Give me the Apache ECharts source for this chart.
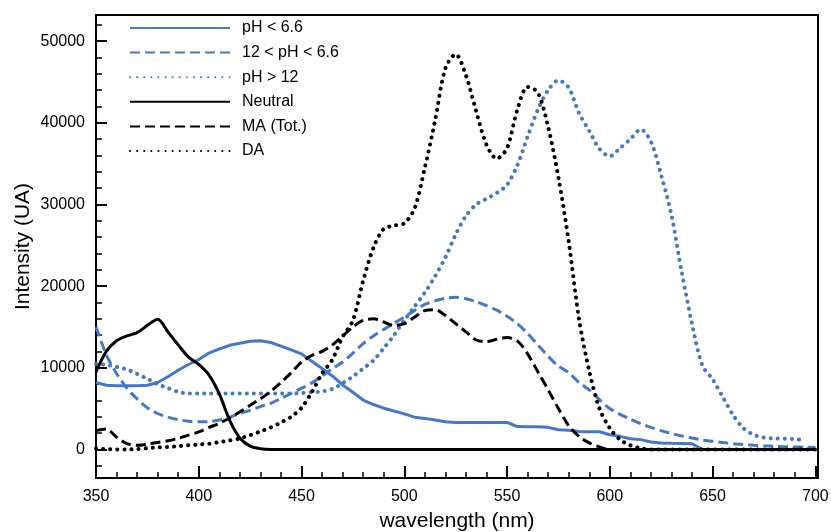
<!DOCTYPE html>
<html>
<head>
<meta charset="utf-8">
<title>Intensity vs wavelength</title>
<script src="https://cdn.jsdelivr.net/npm/echarts/dist/echarts.min.js"></script>
<style>
  html, body { margin: 0; padding: 0; background: #fff; }
  #chartmain { width: 831px; height: 532px; }
</style>
</head>
<body>
<div id="chartmain"></div>
<script>
// wavelength (nm), one point every 5 nm
var wavelength = [350,355,360,365,370,375,380,385,390,395,
    400,405,410,415,420,425,430,435,440,445,
    450,455,460,465,470,475,480,485,490,495,
    500,505,510,515,520,525,530,535,540,545,
    550,555,560,565,570,575,580,585,590,595,
    600,605,610,615,620,625,630,635,640,645,
    650,655,660,665,670,675,680,685,690,695,
    700];

// pH < 6.6
var phLow = [8200,7850,7800,7800,7800,7850,8200,8900,9700,10400,
    11000,11800,12300,12750,13000,13250,13300,13100,12650,12200,
    11700,10800,9900,9000,7900,7000,6050,5500,5050,4700,
    4350,3950,3800,3600,3400,3300,3300,3300,3300,3300,
    3300,2800,2770,2770,2700,2400,2360,2200,2160,2160,
    1800,1600,1300,1200,900,800,750,730,700,0,
    0,0,0,0,0,0,0,0,0,0,
    0];

// 12 < pH < 6.6
var phMid = [15000,11600,9300,7500,6200,5100,4400,3950,3650,3450,
    3380,3400,3600,3950,4400,4800,5250,5650,6250,6850,
    7500,8150,9000,9900,10700,11800,12950,13900,14700,15450,
    16200,17000,17750,18200,18500,18620,18450,18100,17600,17050,
    16300,15400,14200,12800,11400,10200,9400,8200,7300,6100,
    5000,4300,3700,3150,2700,2300,1950,1650,1400,1150,
    1000,850,700,600,520,450,390,340,300,270,
    240];

// pH > 12
var phHigh = [10500,10350,10100,9800,9250,8650,8000,7500,7050,6850,
    6850,6850,6850,6850,6850,6850,6850,6850,6850,6850,
    6900,7000,7100,7400,8100,8950,9900,10900,12400,14000,
    15800,17500,19200,21200,23500,26300,28600,30000,30700,31400,
    32400,34800,38300,41600,44000,45200,44300,41200,39000,36800,
    35900,36900,38000,39200,37700,33600,28700,21700,15400,10300,
    8600,6400,4200,2600,1800,1450,1350,1300,1280,1050,
    null];

// Neutral
var neutral = [9500,12000,13300,13900,14300,15200,15950,14400,12800,11300,
    10400,9100,6800,3600,1400,400,80,0,0,0,
    0,0,0,0,0,0,0,0,0,0,
    0,0,0,0,0,0,0,0,0,0,
    0,0,0,0,0,0,0,0,0,0,
    0,0,0,0,0,0,0,0,0,0,
    0,0,0,0,0,0,0,0,0,0,
    0];

// MA (Tot.)
var maTot = [2300,2500,1500,700,500,650,850,1050,1350,1750,
    2150,2700,3200,3850,4600,5400,6200,7100,8200,9400,
    10700,11500,12000,12800,13900,15000,15800,16000,15600,15200,
    15400,16200,17000,17100,16400,15400,14400,13400,13200,13500,
    13700,13300,11700,9500,7300,5000,2900,1600,800,300,
    0,0,0,0,0,0,0,0,0,0,
    0,0,0,0,0,0,0,0,0,0,
    0];

// DA
var da = [100,50,0,0,50,150,250,300,400,500,
    600,700,900,1100,1350,1750,2200,2700,3300,4000,
    5100,7000,9300,11000,13800,15800,20700,24700,27000,27400,
    27700,29500,34500,40300,46700,48400,45800,41400,37300,35600,
    36900,41600,44400,43700,39500,33300,25500,16000,9600,5000,
    2600,1200,500,150,0,0,0,0,0,0,
    0,0,0,0,0,0,0,0,0,0,
    0];

// tick labels
var xTicks = [350, 400, 450, 500, 550, 600, 650, 700];
var xMinorTicks = [360,370,380,390,410,420,430,440,460,470,480,490,510,520,530,540,
    560,570,580,590,610,620,630,640,660,670,680,690];
var yTicks = [0, 10000, 20000, 30000, 40000, 50000];
var yMinorTicks = [-2000,2000,4000,6000,8000,12000,14000,16000,18000,22000,24000,26000,28000,
    32000,34000,36000,38000,42000,44000,46000,48000,52000];

var seriesNames = ['pH < 6.6', '12 < pH < 6.6', 'pH > 12', 'Neutral', 'MA (Tot.)', 'DA'];

var blue = '#4478cc';
var fontFamily = '"Liberation Sans", Arial, Helvetica, sans-serif';
var dashed = [10, 5];
var dotted = [0.1, 7];

function makeSeries(name, values, color, dash, width, smooth) {
    var data = [];
    for (var i = 0; i < wavelength.length; i++) {
        data.push([wavelength[i], values[i]]);
    }
    return {
        name: name,
        type: 'line',
        data: data,
        symbol: 'none',
        smooth: smooth,
        connectNulls: false,
        lineStyle: {
            color: color,
            width: width,
            type: dash,
            cap: dash === dotted ? 'round' : 'butt'
        },
        itemStyle: { color: color }
    };
}

function plainNumber(v) {
    return String(v);
}

function setChartMain() {
    var option = {
        animation: false,
        backgroundColor: '#fff',
        grid: {
            left: 96,
            top: 15,
            right: 13,
            bottom: 54,
            outerBoundsMode: 'none',
            containLabel: false,
            show: true,
            borderColor: '#000',
            borderWidth: 2
        },
        legend: {
            data: seriesNames,
            orient: 'vertical',
            left: 124,
            top: 14,
            itemWidth: 100,
            itemHeight: 18,
            itemGap: 6.6,
            itemStyle: { opacity: 0 },
            textStyle: {
                color: '#000',
                fontSize: 16,
                fontFamily: fontFamily,
                lineHeight: 18,
                padding: [0, 0, 0, 7]
            }
        },
        xAxis: [{
            type: 'value',
            min: 350,
            max: 701.3,
            position: 'bottom',
            name: 'wavelength (nm)',
            nameLocation: 'middle',
            nameGap: 33,
            nameMoveOverlap: false,
            nameTextStyle: { color: '#000', fontSize: 21, fontFamily: fontFamily },
            axisLine: { show: true, onZero: false, lineStyle: { color: '#000', width: 2 } },
            axisTick: { show: true, inside: true, length: 12, customValues: xTicks, lineStyle: { color: '#000', width: 2 } },
            axisLabel: { customValues: xTicks, formatter: plainNumber, margin: 11, color: '#000', fontSize: 16, fontFamily: fontFamily },
            splitLine: { show: false }
        }, {
            type: 'value',
            min: 350,
            max: 701.3,
            position: 'bottom',
            axisLine: { show: false, onZero: false },
            axisTick: { show: true, inside: true, length: 6, customValues: xMinorTicks, lineStyle: { color: '#000', width: 1.5 } },
            axisLabel: { show: false },
            splitLine: { show: false }
        }],
        yAxis: [{
            type: 'value',
            min: -3500,
            max: 53200,
            position: 'left',
            name: 'Intensity (UA)',
            nameLocation: 'middle',
            nameGap: 62,
            nameMoveOverlap: false,
            nameTextStyle: { color: '#000', fontSize: 21, fontFamily: fontFamily },
            axisLine: { show: true, onZero: false, lineStyle: { color: '#000', width: 2 } },
            axisTick: { show: true, inside: true, length: 11, customValues: yTicks, lineStyle: { color: '#000', width: 2 } },
            axisLabel: { customValues: yTicks, formatter: plainNumber, margin: 11, color: '#000', fontSize: 16, fontFamily: fontFamily },
            splitLine: { show: false }
        }, {
            type: 'value',
            min: -3500,
            max: 53200,
            position: 'left',
            axisLine: { show: false, onZero: false },
            axisTick: { show: true, inside: true, length: 6, customValues: yMinorTicks, lineStyle: { color: '#000', width: 1.5 } },
            axisLabel: { show: false },
            splitLine: { show: false }
        }],
        series: [
            makeSeries(seriesNames[0], phLow, blue, 'solid', 3, false),
            makeSeries(seriesNames[1], phMid, blue, dashed, 3, 0.3),
            makeSeries(seriesNames[2], phHigh, blue, dotted, 4, 0.3),
            makeSeries(seriesNames[3], neutral, '#000', 'solid', 3, 0.3),
            makeSeries(seriesNames[4], maTot, '#000', dashed, 3, 0.3),
            makeSeries(seriesNames[5], da, '#000', dotted, 4, 0.3)
        ]
    };
    var myChart = echarts.init(document.getElementById('chartmain'));
    myChart.setOption(option);
}

setChartMain();
</script>
</body>
</html>
